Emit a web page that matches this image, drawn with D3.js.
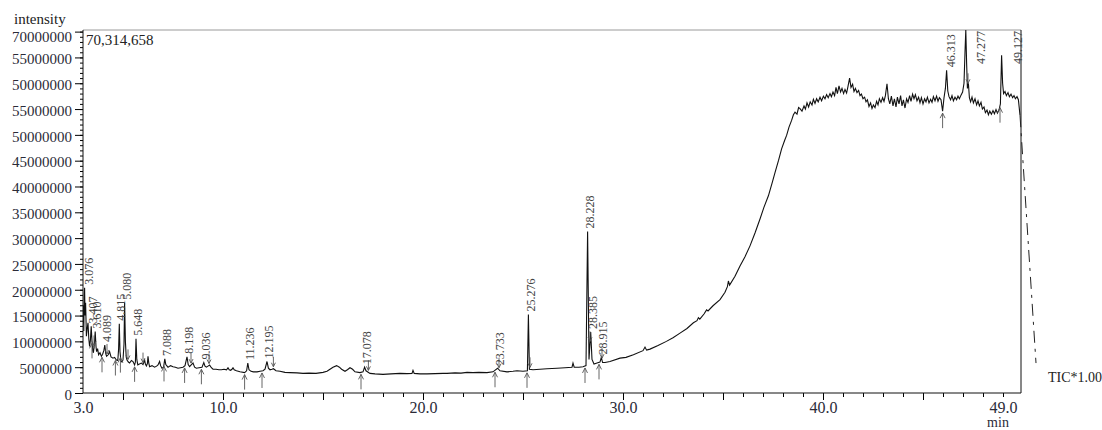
<!DOCTYPE html>
<html>
<head>
<meta charset="utf-8">
<script src="https://cdn.jsdelivr.net/npm/d3@7"></script>
<style>
  body { margin: 0; background: #fff; }
  svg text { font-family: "Liberation Serif", "DejaVu Serif", serif; }
</style>
</head>
<body>
<div id="root"></div>
<script>
// TIC chromatogram: [retention time (min), intensity (millions of counts)]
const trace = [
  [3.00, 13.5], [3.02, 17.0], [3.04, 12.0], [3.06, 19.0], [3.08, 20.4], [3.10, 15.0], [3.13, 17.5],
  [3.17, 11.0], [3.21, 12.5], [3.25, 13.6], [3.29, 10.5], [3.33, 9.0], [3.37, 10.2], [3.41, 12.9],
  [3.45, 10.0], [3.49, 8.2], [3.52, 7.8], [3.57, 9.5], [3.61, 11.9], [3.65, 9.0], [3.68, 8.0],
  [3.73, 8.6], [3.78, 7.4], [3.85, 7.8], [3.92, 7.1], [3.98, 7.5], [4.04, 8.2], [4.09, 9.3],
  [4.14, 7.6], [4.18, 7.1], [4.26, 7.4], [4.33, 8.0], [4.40, 7.0], [4.50, 6.75], [4.58, 6.9],
  [4.67, 6.4], [4.74, 6.3], [4.78, 8.5], [4.815, 13.4], [4.85, 8.0], [4.90, 6.1], [4.95, 6.0],
  [5.00, 6.4], [5.05, 9.5], [5.08, 17.5], [5.12, 10.0], [5.16, 7.0], [5.20, 6.4], [5.27, 6.0],
  [5.33, 5.8], [5.42, 6.3], [5.50, 6.1], [5.58, 5.45], [5.62, 6.0], [5.65, 10.5], [5.69, 6.5],
  [5.74, 5.45], [5.82, 5.6], [5.92, 5.8], [6.00, 5.5], [6.08, 6.4], [6.12, 5.6], [6.17, 5.25],
  [6.22, 5.7], [6.25, 7.1], [6.29, 5.8], [6.33, 5.1], [6.45, 5.3], [6.58, 5.0], [6.68, 5.2],
  [6.75, 5.45], [6.83, 6.1], [6.88, 5.3], [6.95, 4.8], [7.03, 5.0], [7.09, 6.6], [7.14, 5.5],
  [7.25, 5.0], [7.38, 5.3], [7.50, 5.1], [7.62, 5.0], [7.75, 4.8], [7.88, 4.9], [8.00, 5.0],
  [8.10, 5.3], [8.20, 7.0], [8.26, 5.5], [8.33, 5.1], [8.42, 5.5], [8.50, 5.8], [8.58, 5.0],
  [8.67, 4.8], [8.80, 4.9], [8.95, 5.0], [9.04, 5.9], [9.10, 5.2], [9.17, 5.0], [9.25, 5.2],
  [9.33, 5.4], [9.42, 4.9], [9.50, 4.6], [9.65, 4.6], [9.80, 4.5], [9.92, 4.5], [10.05, 4.6],
  [10.18, 4.5], [10.25, 4.9], [10.31, 4.5], [10.38, 4.4], [10.45, 4.6], [10.50, 4.9], [10.56, 4.5],
  [10.67, 4.3], [10.85, 4.1], [11.08, 3.95], [11.18, 4.3], [11.24, 5.8], [11.30, 4.5], [11.40, 4.2],
  [11.52, 4.1], [11.70, 4.1], [11.85, 4.2], [12.00, 4.3], [12.10, 4.6], [12.20, 6.1], [12.27, 4.8],
  [12.35, 4.5], [12.45, 4.6], [12.52, 4.7], [12.65, 4.3], [12.85, 4.2], [13.10, 4.0], [13.35, 3.95],
  [13.70, 3.9], [14.00, 3.8], [14.30, 3.85], [14.65, 3.8], [15.00, 4.0], [15.20, 4.2], [15.35, 4.6],
  [15.50, 5.0], [15.68, 5.3], [15.82, 5.0], [15.93, 4.6], [16.10, 4.2], [16.22, 4.5], [16.35, 4.9],
  [16.48, 4.6], [16.60, 4.1], [16.85, 3.95], [17.00, 4.1], [17.08, 5.0], [17.15, 4.3], [17.35, 3.8],
  [17.60, 3.7], [18.00, 3.6], [18.40, 3.7], [18.85, 3.8], [19.20, 3.75], [19.45, 3.8], [19.50, 4.4],
  [19.56, 3.8], [19.85, 3.7], [20.20, 3.7], [20.60, 3.75], [21.00, 3.8], [21.20, 3.8], [21.60, 3.9],
  [21.90, 3.85], [22.20, 4.0], [22.50, 3.95], [22.80, 4.0], [23.20, 3.95], [23.50, 4.1], [23.73, 4.8],
  [23.85, 4.3], [24.20, 4.1], [24.50, 4.2], [24.70, 4.3], [25.00, 4.2], [25.22, 4.3], [25.27, 15.2],
  [25.32, 4.6], [25.50, 4.5], [25.85, 4.6], [26.20, 4.7], [26.70, 4.8], [27.10, 4.9], [27.45, 5.0],
  [27.50, 5.8], [27.56, 5.0], [27.80, 5.0], [28.00, 5.1], [28.15, 5.3], [28.23, 31.3], [28.30, 6.5],
  [28.385, 11.8], [28.45, 6.5], [28.55, 5.6], [28.70, 5.8], [28.85, 6.0], [28.915, 6.9], [28.98, 5.9],
  [29.10, 5.9], [29.35, 6.1], [29.85, 6.75], [30.15, 6.9], [30.52, 7.4], [31.00, 8.2], [31.10, 8.9],
  [31.18, 8.3], [31.35, 8.5], [31.75, 9.2], [32.17, 10.0], [32.50, 10.7], [32.85, 11.6], [33.20, 12.5],
  [33.52, 13.6], [33.70, 14.0], [33.77, 14.6], [33.84, 14.3], [34.05, 15.3], [34.18, 16.1], [34.25, 15.9],
  [34.50, 16.9], [34.85, 18.1], [35.10, 19.5], [35.22, 20.6], [35.27, 21.7], [35.33, 20.9], [35.60, 22.6],
  [35.85, 24.6], [36.10, 26.4], [36.35, 28.5], [36.60, 31.0], [36.85, 33.7], [37.05, 36.0], [37.27, 38.2],
  [37.45, 40.6], [37.60, 42.7], [37.78, 45.1], [37.93, 47.3], [38.08, 48.9], [38.18, 49.9], [38.30, 51.5],
  [38.43, 52.8], [38.52, 53.9], [38.60, 54.4], [38.70, 54.0], [38.78, 55.3],
  [38.85, 55.1], [38.95, 54.6], [39.05, 55.6], [39.12, 55.0], [39.20, 56.2], [39.28, 55.4], [39.36, 56.4],
  [39.45, 55.8], [39.52, 56.9], [39.60, 56.1], [39.68, 57.0], [39.76, 56.4], [39.85, 57.3], [39.93, 56.6],
  [40.02, 57.5], [40.10, 57.0], [40.18, 57.8], [40.26, 57.2], [40.35, 58.0], [40.42, 57.4], [40.50, 58.3],
  [40.58, 57.6], [40.65, 59.2], [40.72, 58.0], [40.80, 59.5], [40.88, 58.3], [40.95, 59.0], [41.03, 58.0],
  [41.10, 58.8], [41.18, 58.1], [41.25, 59.4], [41.33, 61.0], [41.40, 59.2], [41.48, 59.8], [41.55, 58.4],
  [41.62, 59.0], [41.70, 58.2], [41.78, 58.6], [41.85, 57.6], [41.92, 57.9], [42.00, 57.0], [42.08, 57.3],
  [42.15, 56.4], [42.22, 56.8], [42.30, 55.5], [42.38, 56.2], [42.45, 55.1], [42.52, 55.8], [42.60, 55.3],
  [42.68, 56.5], [42.75, 55.8], [42.82, 57.0], [42.90, 56.3], [42.98, 57.2], [43.05, 56.5], [43.12, 57.6],
  [43.20, 59.9], [43.27, 57.0], [43.34, 56.0], [43.42, 57.5], [43.50, 55.6], [43.57, 57.0], [43.65, 55.4],
  [43.72, 57.3], [43.80, 56.0], [43.88, 57.6], [43.95, 55.6], [44.02, 56.8], [44.10, 55.2], [44.18, 57.0],
  [44.25, 56.3], [44.33, 57.6], [44.40, 56.5], [44.48, 57.9], [44.55, 57.0], [44.62, 57.8], [44.70, 56.6],
  [44.78, 57.3], [44.85, 56.2], [44.92, 57.2], [45.00, 56.0], [45.08, 57.0], [45.15, 56.4], [45.22, 57.3],
  [45.30, 56.2], [45.38, 56.9], [45.45, 56.3], [45.52, 57.4], [45.60, 56.6], [45.68, 57.5], [45.75, 56.5],
  [45.82, 57.2], [45.90, 56.8], [45.98, 54.6], [46.05, 57.2], [46.12, 59.0], [46.18, 62.5], [46.24, 58.5],
  [46.30, 57.4], [46.38, 56.8], [46.45, 57.6], [46.52, 56.6], [46.60, 57.3], [46.68, 56.8], [46.75, 57.5],
  [46.82, 57.0], [46.90, 57.7], [46.98, 58.3], [47.05, 60.0], [47.10, 66.0], [47.14, 70.3], [47.18, 64.0],
  [47.22, 59.0], [47.27, 60.0], [47.32, 57.2], [47.38, 56.4], [47.45, 57.3], [47.52, 56.2], [47.60, 57.0],
  [47.68, 55.8], [47.75, 56.6], [47.82, 55.6], [47.90, 56.3], [47.97, 55.0], [48.05, 55.4], [48.12, 54.3],
  [48.20, 54.8], [48.27, 53.9], [48.34, 54.6], [48.42, 54.0], [48.50, 54.7], [48.57, 54.1], [48.65, 54.9],
  [48.72, 54.2], [48.80, 54.8], [48.87, 56.0], [48.93, 65.4], [48.98, 60.0], [49.03, 58.0], [49.10, 58.4],
  [49.17, 57.6], [49.25, 58.2], [49.32, 57.4], [49.40, 57.9], [49.48, 57.2], [49.55, 57.6], [49.62, 57.0],
  [49.70, 57.4], [49.77, 56.8], [49.85, 53.8]
];

// trace continues past the window end (dash-dot)
const tail = [[49.85, 53.8], [50.65, 5.8]];

// labelled peaks: retention time, apex intensity (M)
const peakRT = [3.076, 3.407, 3.610, 4.089, 4.815, 5.080, 5.648, 7.088, 8.198, 9.036, 11.236,
  12.195, 17.078, 23.733, 25.276, 28.228, 28.385, 28.915, 46.313, 47.277, 49.127];
const peakTop = [20.4, 12.9, 11.9, 9.3, 13.4, 17.5, 10.5, 6.6, 7.0, 5.9, 5.8,
  6.1, 5.0, 4.8, 15.2, 31.3, 11.8, 6.9, 62.5, 70.3, 65.4];

// integration marks: up arrows at peak starts, small down marks at peak ends
const startMarks = [3.45, 3.95, 4.62, 4.87, 5.58, 7.05, 8.08, 8.92, 11.08, 11.95, 16.9, 23.6,
  25.2, 28.1, 28.8, 45.98, 48.85];
const endMarks = [3.55, 4.2, 5.25, 6.0, 8.4, 9.3, 12.52, 17.27, 23.8, 25.35, 28.35, 28.95, 47.25];

const yTicks = [0, 5, 10, 15, 20, 25, 30, 35, 40, 45, 50, 55, 60, 65, 70];
const yTickLabels = ["0", "5000000", "10000000", "15000000", "20000000", "25000000", "30000000",
  "35000000", "40000000", "45000000", "50000000", "55000000", "50000000", "55000000", "70000000"];
const xLabelTicks = [3, 10, 20, 30, 40, 49];
const maxIntensity = 70314658;

const width = 1102, height = 430;
const plotLeft = 83, plotRight = 1021, plotTop = 30, plotBottom = 393;

const x = d3.scaleLinear().domain([3, 49.9]).range([plotLeft, plotRight]);
const y = d3.scaleLinear().domain([0, maxIntensity / 1e6]).range([plotBottom, plotTop]);

const svg = d3.select("#root").append("svg")
  .attr("width", width)
  .attr("height", height);

svg.append("defs").append("clipPath").attr("id", "plot")
  .append("rect").attr("x", plotLeft).attr("y", plotTop - 1)
  .attr("width", plotRight - plotLeft).attr("height", plotBottom - plotTop + 1);

// y axis: minor every 1M, major with labels every 5M
svg.append("g")
  .attr("transform", `translate(${plotLeft},0)`)
  .call(d3.axisLeft(y).tickValues(d3.range(0, 71, 1)).tickSize(3).tickFormat(""))
  .call(g => g.select(".domain").remove());

svg.append("g")
  .attr("transform", `translate(${plotLeft},0)`)
  .call(d3.axisLeft(y).tickValues(yTicks).tickSize(8).tickPadding(3).tickFormat((d, i) => yTickLabels[i]))
  .call(g => g.select(".domain").remove())
  .call(g => g.selectAll("text")
    .attr("font-family", "Liberation Serif")
    .attr("font-size", 15)
    .attr("fill", "#2b2b38")
    .attr("dy", d => d === 70 ? "0.68em" : "0.42em"));

// x axis: minor every minute, major every 5 min
svg.append("g")
  .attr("transform", `translate(0,${plotBottom})`)
  .call(d3.axisBottom(x).tickValues(d3.range(4, 50, 1)).tickSize(4).tickFormat(""))
  .call(g => g.select(".domain").remove());

svg.append("g")
  .attr("transform", `translate(0,${plotBottom})`)
  .call(d3.axisBottom(x).tickValues(d3.range(5, 50, 5)).tickSize(7).tickFormat(""))
  .call(g => g.select(".domain").remove());

svg.append("g")
  .attr("transform", `translate(0,${plotBottom})`)
  .call(d3.axisBottom(x).tickValues(xLabelTicks).tickSize(0).tickPadding(9).tickFormat(d3.format(".1f")))
  .call(g => g.select(".domain").remove())
  .call(g => g.selectAll("text")
    .attr("font-family", "Liberation Serif")
    .attr("font-size", 16)
    .attr("fill", "#2b2b38"));

// frame
svg.append("line").attr("x1", plotLeft).attr("x2", plotRight).attr("y1", plotTop).attr("y2", plotTop)
  .attr("stroke", "#9a9a9a");
svg.append("line").attr("x1", plotRight).attr("x2", plotRight).attr("y1", plotTop).attr("y2", plotBottom)
  .attr("stroke", "#111");
svg.append("line").attr("x1", plotLeft).attr("x2", plotLeft).attr("y1", plotTop).attr("y2", plotBottom)
  .attr("stroke", "#111");
svg.append("line").attr("x1", plotLeft).attr("x2", plotRight).attr("y1", plotBottom).attr("y2", plotBottom)
  .attr("stroke", "#111");

const line = d3.line().x(d => x(d[0])).y(d => y(d[1]));

svg.append("path")
  .datum(trace)
  .attr("clip-path", "url(#plot)")
  .attr("fill", "none")
  .attr("stroke", "#111")
  .attr("stroke-width", 1.1)
  .attr("d", line);

svg.append("path")
  .datum(tail)
  .attr("fill", "none")
  .attr("stroke", "#222")
  .attr("stroke-width", 1)
  .attr("stroke-dasharray", "12,6,3,6")
  .attr("d", line);

// baseline value under a mark
const bisect = d3.bisector(d => d[0]).left;
function traceAt(t) {
  const i = Math.max(1, bisect(trace, t));
  const a = trace[i - 1], b = trace[i];
  const k = (t - a[0]) / (b[0] - a[0]);
  return a[1] + k * (b[1] - a[1]);
}

svg.append("g").selectAll("path")
  .data(startMarks)
  .join("path")
  .attr("fill", "none")
  .attr("stroke", "#555")
  .attr("stroke-width", 0.9)
  .attr("d", t => {
    const px = x(t), py = y(traceAt(t));
    return `M${px},${py + 2}L${px},${py + 17}M${px - 2.5},${py + 7}L${px},${py + 2}L${px + 2.5},${py + 7}`;
  });

svg.append("g").selectAll("path")
  .data(endMarks)
  .join("path")
  .attr("fill", "none")
  .attr("stroke", "#555")
  .attr("stroke-width", 0.9)
  .attr("d", t => {
    const px = x(t), py = y(traceAt(t));
    return `M${px},${py - 12}L${px},${py - 2}M${px - 2},${py - 6}L${px},${py - 2}L${px + 2},${py - 6}`;
  });

// peak labels, rotated, sitting on the apex (or pushed aside at the top edge)
const labels = svg.append("g").selectAll("text")
  .data(peakRT)
  .join("text")
  .attr("font-size", 12)
  .attr("fill", "#444")
  .text(d => d3.format(".3f")(d));

labels.each(function (d, i) {
  const len = this.getComputedTextLength();
  let px = Math.max(x(d) + 6, plotLeft + 10);
  let py = y(peakTop[i]) - 3;
  if (py - len < plotTop) {
    py = plotTop + len + 1;
    px += 10;
  }
  d3.select(this).attr("transform", `translate(${px},${py}) rotate(-90)`);
});

svg.append("text")
  .attr("x", 14).attr("y", 24)
  .attr("font-size", 15)
  .attr("fill", "#222")
  .text("intensity");

svg.append("text")
  .attr("x", 86).attr("y", 45)
  .attr("font-size", 15)
  .attr("fill", "#222")
  .text(d3.format(",")(maxIntensity));

svg.append("text")
  .attr("x", 1048).attr("y", 382)
  .attr("font-size", 14)
  .attr("fill", "#222")
  .text("TIC*1.00");

svg.append("text")
  .attr("x", 998).attr("y", 427)
  .attr("text-anchor", "middle")
  .attr("font-size", 14)
  .attr("fill", "#2b2b38")
  .text("min");
</script>
</body>
</html>
